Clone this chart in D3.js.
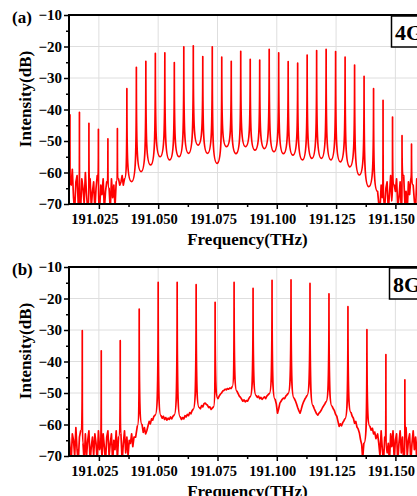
<!DOCTYPE html>
<html><head><meta charset="utf-8">
<script src="https://cdn.jsdelivr.net/npm/d3@7"></script>
<style>html,body{margin:0;padding:0;background:#fff;overflow:hidden}svg{display:block}</style>
</head><body><svg id="c" width="417" height="496"></svg>
<script>
// ---------- data ----------
const xTicks = [191.025, 191.050, 191.075, 191.100, 191.125, 191.150];
const xMinor = [191.0375, 191.0625, 191.0875, 191.1125, 191.1375, 191.1625];
const yTicks = [-10, -20, -30, -40, -50, -60, -70];
const yMinor = [-15, -25, -35, -45, -55, -65];

// Panel (a): 4 GHz comb
const peaksA_f = [191.0128,191.0168,191.0208,191.0248,191.0288,191.0328,191.0368,191.0408,191.0448,191.0488,
  191.0528,191.0568,191.0608,191.0648,191.0688,191.0728,191.0768,191.0808,191.0848,191.0888,191.0928,191.0968,
  191.1008,191.1048,191.1088,191.1128,191.1168,191.1208,191.1248,191.1288,191.1328,191.1368,191.1408,191.1448,
  191.1488,191.1528,191.1568];
const peaksA_db = [-41.7,-40.9,-44.4,-46.3,-49.3,-46.1,-33.4,-26.6,-24.7,-22.2,-22.0,-25.1,-20.1,-19.8,-23.2,
  -20.1,-23.4,-24.7,-21.5,-24.1,-24.3,-20.9,-22.0,-24.8,-25.3,-22.7,-21.3,-20.9,-21.6,-23.4,-25.9,-29.5,-33.4,
  -37.1,-42.4,-48.3,-51.0];
// valleys between consecutive peaks, from peak index 6 to 32
const valleysA_db = [-62.9,-59.7,-57.6,-55.0,-56.0,-55.0,-53.9,-51.3,-53.9,-57.1,-51.8,-54.0,-51.8,-52.9,-52.4,
  -53.4,-54.0,-54.5,-56.0,-55.5,-55.5,-56.0,-56.6,-58.2,-60.8,-64.5];
const noiseA_left = {start: 191.0113, step: 0.0005, db: [-60,-62,-66,-70,-64,-59,-68,-72,-63,-61,
  -70,-66,-72,-62,-65,-70,-60,-67,-72,-64, -62,-71,-66,-63,-72,-65,-61,-69,-72,-64,
  -67,-62,-72,-66,-63,-70,-65,-72,-62,-68, -64,-71,-63,-66,-62,-64,-63,-61,-64,-62]};
const noiseA_right = {start: 191.1425, step: 0.0005, db: [-66,-70,-72,-64,-68,-62,-71,-65,-63,-72,
  -67,-61,-69,-72,-64,-66,-62,-71,-68,-63, -72,-65,-61,-70,-66,-72,-63,-67,-62,-71,
  -64,-69,-72,-62,-66,-70,-63,-72,-65,-61, -68,-72,-64,-66,-62,-70]};

// Panel (b): 8 GHz comb
const peaksB_f = [191.018,191.026,191.034,191.042,191.050,191.058,191.066,191.074,191.082,191.090,
  191.098,191.106,191.114,191.122,191.130,191.138,191.146,191.154,191.162];
const peaksB_db = [-30.2,-36.6,-33.4,-23.4,-14.9,-14.9,-15.6,-21.2,-14.9,-16.8,-14.2,-14.1,-15.2,-18.5,
  -22.6,-29.9,-37.8,-45.8,-50.0];
const floorB = [[191.0405,-64],[191.0412,-60.5],
  [191.0432,-60.0],[191.0437,-62.5],[191.0442,-61.0],[191.0447,-63.0],[191.0452,-62.0],[191.0457,-60.5],[191.0462,-59.0],[191.0467,-59.8],[191.0472,-58.2],[191.0477,-58.6],[191.0482,-57.4],[191.0487,-57.0],
  [191.0512,-57.2],[191.0517,-58.0],[191.0522,-57.4],[191.0527,-58.4],[191.0532,-57.8],[191.0537,-58.6],[191.0542,-58.0],[191.0547,-58.4],[191.0552,-57.6],[191.0557,-58.2],[191.0562,-57.4],[191.0567,-57.0],
  [191.0593,-57.6],[191.0598,-58.4],[191.0603,-57.8],[191.0608,-58.2],[191.0613,-57.2],[191.0618,-57.6],[191.0623,-56.8],[191.0628,-57.2],[191.0633,-56.2],[191.0638,-56.6],[191.0643,-55.6],[191.0647,-55.2],
  [191.0673,-54.6],[191.0678,-55.0],[191.0683,-54.0],[191.0688,-54.4],[191.0693,-53.4],[191.0698,-53.2],[191.0703,-53.6],[191.0708,-53.9],[191.0713,-54.6],[191.0718,-54.4],[191.0723,-55.2],[191.0728,-54.8],[191.0733,-54.4],
  [191.0752,-51.8],[191.0757,-51.0],[191.0762,-50.4],[191.0767,-50.0],[191.0772,-49.4],[191.0777,-49.2],[191.0782,-48.8],[191.0787,-49.0],[191.0792,-48.6],[191.0797,-48.8],[191.0802,-48.4],[191.0807,-48.6],[191.0812,-48.0],
  [191.0832,-49.4],[191.0837,-50.2],[191.0842,-51.0],[191.0847,-51.4],[191.0852,-52.0],[191.0857,-52.6],[191.0862,-52.2],[191.0867,-52.8],[191.0872,-52.4],[191.0877,-52.6],[191.0882,-51.8],[191.0887,-51.2],
  [191.0913,-50.8],[191.0918,-51.4],[191.0923,-51.0],[191.0928,-51.8],[191.0933,-51.4],[191.0938,-52.0],[191.0943,-51.6],[191.0948,-51.2],[191.0953,-51.8],[191.0958,-51.0],[191.0963,-50.6],[191.0968,-50.2],
  [191.0993,-52.0],[191.0998,-53.5],[191.1003,-56.4],[191.1008,-55.0],[191.1013,-53.2],[191.1018,-52.6],[191.1023,-52.0],[191.1028,-51.6],[191.1033,-51.8],[191.1038,-51.0],[191.1043,-50.6],[191.1047,-50.2],
  [191.1073,-51.6],[191.1078,-52.4],[191.1083,-53.4],[191.1088,-54.6],[191.1093,-55.6],[191.1098,-56.4],[191.1103,-55.2],[191.1108,-53.8],[191.1113,-52.8],[191.1118,-52.0],[191.1123,-51.4],[191.1127,-50.8],
  [191.1153,-54.0],[191.1158,-55.0],[191.1163,-55.8],[191.1168,-56.6],[191.1173,-57.0],[191.1178,-56.4],[191.1183,-56.0],[191.1188,-55.4],[191.1193,-54.6],[191.1198,-54.0],[191.1203,-53.4],[191.1207,-52.8],
  [191.1233,-54.2],[191.1238,-55.0],[191.1243,-55.6],[191.1248,-56.8],[191.1253,-57.4],[191.1258,-59.0],[191.1263,-60.6],[191.1268,-59.8],[191.1273,-60.4],[191.1278,-59.4],[191.1283,-58.8],[191.1287,-58.2],
  [191.1313,-56.2],[191.1318,-57.4],[191.1323,-58.0],[191.1328,-59.6],[191.1333,-59.0],[191.1338,-60.8],[191.1343,-61.4],[191.1348,-62.6],[191.1353,-64.8],[191.1358,-66.4],[191.1362,-71.0],[191.1367,-66.0],
  [191.1393,-60.6],[191.1398,-61.8],[191.1403,-61.2],[191.1408,-63.0],[191.1413,-62.4],[191.1418,-64.5]];
const noiseB_left = {start: 191.0113, step: 0.0005, db: [-64,-70,-62,-67,-72,-63,-65,-70,-61,-68,
  -72,-64,-62,-69,-66,-72,-63,-70,-65,-62, -72,-67,-64,-70,-63,-66,-72,-62,-68,-65,
  -71,-63,-67,-72,-64,-62,-70,-66,-63,-72, -65,-68,-62,-71,-64,-67,-63,-72,-66,-62,
  -69,-64,-70,-65,-66,-63,-67,-64]};
const noiseB_right = {start: 191.1425, step: 0.0005, db: [-63,-66,-70,-62,-68,-72,-64,-61,-69,-66,
  -72,-63,-67,-62,-71,-65,-63,-72,-66,-62, -69,-64,-72,-67,-61,-70,-65,-63,-72,-66,
  -62,-68,-64,-71,-63,-66,-62,-70,-65,-72, -63,-67,-62,-69,-64]};

// ---------- build floor lists ----------
function noisePts(n, peaks) {
  return n.db.map((d, i) => [n.start + n.step * i, d])
    .filter(p => !peaks.some(f => Math.abs(f - p[0]) < 0.00028));
}
const floorA = [];
noisePts(noiseA_left, peaksA_f).forEach(p => floorA.push(p));
valleysA_db.forEach((d, i) => floorA.push([(peaksA_f[6 + i] + peaksA_f[7 + i]) / 2, d]));
noisePts(noiseA_right, peaksA_f).forEach(p => floorA.push(p));
const floorBAll = [].concat(noisePts(noiseB_left, peaksB_f), floorB, noisePts(noiseB_right, peaksB_f));

// ---------- layout ----------
const svg = d3.select('#c');
const FONT = "'Liberation Serif','Times New Roman',serif";
const x = d3.scaleLinear().domain([191.0124, 191.170]).range([69, 69 + (191.170 - 191.0124) * 2372]);
const panels = [
  {top: 15, bottom: 204, peaksF: peaksA_f, peaksD: peaksA_db, floor: floorA, label: '(a)', tag: '4GHz', id: 'a'},
  {top: 267, bottom: 456, peaksF: peaksB_f, peaksD: peaksB_db, floor: floorBAll, label: '(b)', tag: '8GHz', id: 'b'}
];

panels.forEach(P => {
  const y = d3.scaleLinear().domain([-70, -10]).range([P.bottom, P.top]);
  const g = svg.append('g');
  const xR = 460;

  // grid
  g.append('g').selectAll('line').data(xTicks).join('line')
    .attr('x1', d => x(d)).attr('x2', d => x(d)).attr('y1', P.top).attr('y2', P.bottom)
    .attr('stroke', '#dedede').attr('stroke-width', 1);
  g.append('g').selectAll('line').data(yTicks.slice(1, -1)).join('line')
    .attr('x1', 69).attr('x2', xR).attr('y1', d => y(d)).attr('y2', d => y(d))
    .attr('stroke', '#dedede').attr('stroke-width', 1);

  // trace
  const clipId = 'clip' + P.id;
  svg.append('clipPath').attr('id', clipId).append('rect')
    .attr('x', 69).attr('y', P.top).attr('width', xR - 69).attr('height', P.bottom - P.top);
  const pts = P.floor.map(p => ({f: p[0], d: p[1], pk: false}))
    .concat(P.peaksF.map((f, i) => ({f: f, d: P.peaksD[i], pk: true})))
    .sort((a, b) => a.f - b.f);
  let path = '';
  pts.forEach((p, i) => {
    const px = x(p.f), py = y(p.d);
    if (i === 0) { path += `M${px},${py}`; return; }
    const q = pts[i - 1], qx = x(q.f), qy = y(q.d);
    if (!p.pk && !q.pk) path += `L${px},${py}`;
    else if (p.pk) path += `C${qx + 0.85 * (px - qx)},${qy} ${px},${qy + 0.2 * (py - qy)} ${px},${py}`;
    else path += `C${qx},${py + 0.2 * (qy - py)} ${px + 0.85 * (qx - px)},${py} ${px},${py}`;
  });
  g.append('path').attr('d', path).attr('clip-path', `url(#${clipId})`)
    .attr('fill', 'none').attr('stroke', '#ff0000').attr('stroke-width', 1.7)
    .attr('stroke-linejoin', 'round');

  // axes
  const yAx = g.append('g').attr('transform', 'translate(69,0)')
    .call(d3.axisLeft(y).tickValues(yTicks).tickSize(5).tickPadding(2));
  g.append('g').attr('transform', 'translate(69,0)')
    .call(d3.axisLeft(y).tickValues(yMinor).tickSize(3).tickFormat(''));
  const xAx = g.append('g').attr('transform', `translate(0,${P.bottom})`)
    .call(d3.axisBottom(x).tickValues(xTicks).tickSize(5).tickPadding(5).tickFormat(d3.format('.3f')));
  g.append('g').attr('transform', `translate(0,${P.bottom})`)
    .call(d3.axisBottom(x).tickValues(xMinor).tickSize(3).tickFormat(''));
  g.selectAll('.domain').remove();
  g.selectAll('.tick line').attr('stroke', '#000').attr('stroke-width', 1.5);
  yAx.selectAll('text').attr('font-family', FONT).attr('font-weight', 'bold').attr('font-size', 15).attr('fill', '#000');
  xAx.selectAll('text').attr('font-family', FONT).attr('font-weight', 'bold').attr('font-size', 14.5)
    .attr('fill', '#000').attr('x', -4.5);
  // frame lines
  g.append('line').attr('x1', 69).attr('x2', 69).attr('y1', P.top - 1).attr('y2', P.bottom + 1).attr('stroke', '#000').attr('stroke-width', 2);
  g.append('line').attr('x1', 68).attr('x2', xR).attr('y1', P.top).attr('y2', P.top).attr('stroke', '#000').attr('stroke-width', 2);
  g.append('line').attr('x1', 68).attr('x2', xR).attr('y1', P.bottom).attr('y2', P.bottom).attr('stroke', '#000').attr('stroke-width', 2);

  // titles
  g.append('text').attr('x', 247.5).attr('y', P.bottom + 41).attr('text-anchor', 'middle')
    .attr('font-family', FONT).attr('font-weight', 'bold').attr('font-size', 17).text('Frequency(THz)');
  g.append('text').attr('transform', `translate(31,${P.top + 84}) rotate(-90)`).attr('text-anchor', 'middle')
    .attr('font-family', FONT).attr('font-weight', 'bold').attr('font-size', 17).text('Intensity(dB)');
  g.append('text').attr('x', 12).attr('y', P.top + 8).attr('font-family', FONT).attr('font-weight', 'bold')
    .attr('font-size', 17).text(P.label);

  // tag box
  g.append('rect').attr('x', P.id === 'a' ? 391.5 : 389.5).attr('y', P.top + 1).attr('width', 70).attr('height', 31)
    .attr('fill', '#fff').attr('stroke', '#000').attr('stroke-width', 1.5);
  g.append('text').attr('x', P.id === 'a' ? 395 : 393).attr('y', P.top + 25).attr('font-family', FONT)
    .attr('font-weight', 'bold').attr('font-size', 22).text(P.tag);
});
</script></body></html>
